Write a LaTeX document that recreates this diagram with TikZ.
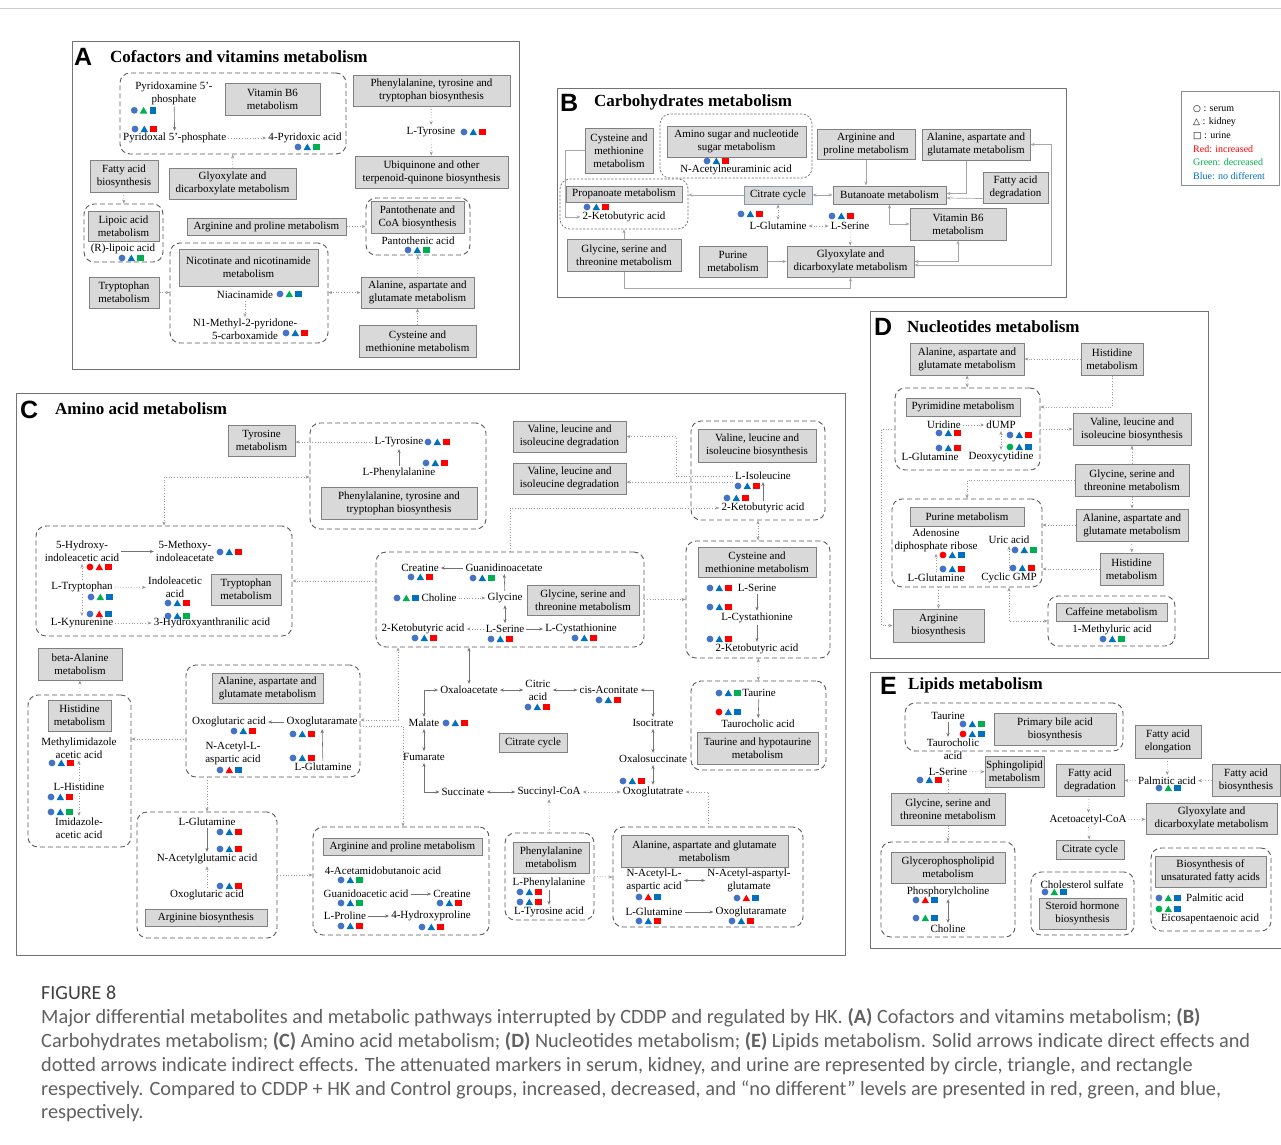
\documentclass[tikz,border=0pt]{standalone}
\usepackage{fontspec}
\setmainfont{Liberation Serif}
\newfontfamily\captfont{Carlito}
\newfontfamily\panelfont{Liberation Sans}
\newfontfamily\legsym{DejaVu Sans}
\usetikzlibrary{arrows.meta}

\definecolor{mkcB}{HTML}{4472C4}
\definecolor{mkcR}{HTML}{FF0000}
\definecolor{mkcG}{HTML}{00B050}
\definecolor{mkB}{HTML}{0070C0}
\definecolor{mkR}{HTML}{FF0000}
\definecolor{mkG}{HTML}{00B050}
\definecolor{citbd}{HTML}{8497B0}

% circle, triangle, square marker: x, y, then serum/kidney/urine colour (R, G or B)
\newcommand\mrk[5]{%
  \fill[mkc#3] (#1,#2) circle (3.4pt);
  \fill[mk#4] (#1+9.3,#2) ++(-3.8pt,-3.2pt) -- ++(7.6pt,0pt) -- ++(-3.8pt,6.6pt) -- cycle;
  \fill[mk#5] (#1+18.6,#2) ++(-3.3pt,-3.3pt) rectangle ++(6.6pt,6.6pt);}

\begin{document}
\begin{tikzpicture}[x=1pt,y=-1pt,>={Stealth[length=4pt,width=3.2pt]},
  pw/.style 2 args={draw=black!50,line width=1pt,fill=black!15,align=center,inner sep=1pt,
    minimum width=#1,minimum height=#2,font=\fontsize{11}{13}\selectfont},
  grp/.style 2 args={draw=black!65,line width=0.9pt,dash pattern=on 5pt off 3pt,rounded corners=10pt,
    minimum width=#1,minimum height=#2,inner sep=0pt},
  grpf/.style 2 args={grp={#1}{#2},dash pattern=on 2.2pt off 1.6pt,line width=0.7pt,draw=black!55},
  met/.style={align=center,inner sep=2pt,font=\fontsize{11}{13}\selectfont},
  sol/.style={->,draw=black!55,line width=0.6pt},
  ind/.style={->,draw=black!40,line width=0.7pt,dotted},
  lnk/.style={->,draw=black!35,line width=0.7pt},
  ttl/.style={anchor=west,inner sep=0pt,font=\fontsize{17}{20}\selectfont\bfseries},
  lett/.style={anchor=west,inner sep=0pt,font=\panelfont\fontsize{25}{25}\selectfont\bfseries},
  leg/.style={anchor=west,inner sep=0pt,font=\fontsize{10}{12}\selectfont},
  capt/.style={anchor=base west,inner sep=0pt,text=black!62,font=\captfont\fontsize{20.3}{24}\selectfont}]
\path[use as bounding box,fill=white] (0,0) rectangle (1281,1144);
\draw[black!20] (0,8) -- (1281,8);

% A
\draw[black!55,line width=0.8pt] (72,41) rectangle (519,369);
\node[lett] (lA) at (74,57) {A};
\node[ttl] (tA) at (110,57) {Cofactors and vitamins metabolism};
\node[grp={226}{81}] (gB6A) at (233,113.5) {};
\node[grp={79}{58}] (gLipA) at (123.5,233) {};
\node[grp={104}{57}] (gPanA) at (418,226.5) {};
\node[grp={158}{100}] (gNicA) at (249,293) {};
\node[pw={95}{32}] (bB6A) at (272.5,99) {Vitamin B6\\metabolism};
\node[pw={157}{31}] (bPheA) at (431.5,90.5) {Phenylalanine, tyrosine and\\tryptophan biosynthesis};
\node[pw={153}{32}] (bUbiA) at (431.5,172) {Ubiquinone and other\\terpenoid-quinone biosynthesis};
\node[pw={68}{32}] (bFasA) at (124,176) {Fatty acid\\biosynthesis};
\node[pw={71}{30}] (bLipA) at (123.5,226) {Lipoic acid\\metabolism};
\node[pw={127}{31}] (bGlxA) at (232.5,183.5) {Glyoxylate and\\dicarboxylate metabolism};
\node[pw={159}{17}] (bArgA) at (266.5,226.5) {Arginine and proline metabolism};
\node[pw={93}{32}] (bPanA) at (417.5,217) {Pantothenate and\\CoA biosynthesis};
\node[pw={139}{37}] (bNicA) at (248.5,267.5) {Nicotinate and nicotinamide\\metabolism};
\node[pw={70}{31}] (bTrpA) at (124,292.5) {Tryptophan\\metabolism};
\node[pw={113}{31}] (bAlaA) at (417.5,292.5) {Alanine, aspartate and\\glutamate metabolism};
\node[pw={117}{32}] (bCysA) at (417.5,341) {Cysteine and\\methionine metabolism};
\node[met] (mPmpA) at (174,93) {Pyridoxamine 5'-\\phosphate};
\mrk{134.3}{110.3}{B}{G}{B}
\node[met] (mPlpA) at (174.7,138) {Pyridoxal 5'-phosphate};
\mrk{135}{129}{B}{B}{R}
\node[met] (mPdxA) at (305,138) {4-Pyridoxic acid};
\mrk{298}{147}{B}{B}{G}
\node[met] (mTyrA) at (431,132) {L-Tyrosine};
\mrk{464}{132}{B}{B}{R}
\node[met] (mLipA) at (123,249) {(R)-lipoic acid};
\mrk{122}{258}{B}{B}{G}
\node[met] (mPanA) at (418,241) {Pantothenic acid};
\mrk{408}{250}{B}{B}{G}
\node[met] (mNiaA) at (245,295) {Niacinamide};
\mrk{280}{294}{B}{G}{B}
\node[met] (mMnpA) at (245,329.5) {N1-Methyl-2-pyridone-\\5-carboxamide};
\mrk{286}{333}{B}{B}{R}
\draw[sol] (mPmpA) -- (mPlpA);
\draw[ind] (mPlpA) -- (mPdxA);
\draw[ind] (bPheA) -- (mTyrA);
\draw[ind] (mTyrA) -- (bUbiA);
\draw[ind] (bFasA) -- (gLipA);
\draw[ind] (bGlxA) -- (gB6A);
\draw[ind] (bArgA.east) -- (gPanA.west |- bArgA.east);
\draw[ind] (bTrpA.east) -- (gNicA.west |- bTrpA.east);
\draw[ind,<->] (bAlaA.west) -- (gNicA.east |- bAlaA.west);
\draw[ind] (bAlaA) -- (gPanA);
\draw[ind] (bCysA) -- (bAlaA);
\draw[ind] (mNiaA) -- (mMnpA);

% B
\draw[black!55,line width=0.8pt] (557,88) rectangle (1066,297);
\node[lett] (lB) at (560,103) {B};
\node[ttl] (tB) at (594,102) {Carbohydrates metabolism};
\node[grpf={152}{64}] (gAmiB) at (736,146) {};
\node[grpf={128}{50}] (gProB) at (624,204) {};
\node[pw={68}{45}] (bCysB) at (619,150.5) {Cysteine and\\methionine\\metabolism};
\node[pw={139}{31}] (bAmiB) at (736.5,141.5) {Amino sugar and nucleotide\\sugar metabolism};
\node[pw={98}{30}] (bArgB) at (866,144) {Arginine and\\proline metabolism};
\node[pw={108}{31}] (bAlaB) at (976,144.5) {Alanine, aspartate and\\glutamate metabolism};
\node[pw={65}{31}] (bFadB) at (1015.5,187.5) {Fatty acid\\degradation};
\node[pw={116}{16}] (bProB) at (624,194) {Propanoate metabolism};
\node[pw={68}{18},draw=citbd] (bCitB) at (778,195) {Citrate cycle};
\node[pw={113}{18}] (bButB) at (889.5,195) {Butanoate metabolism};
\node[pw={96}{32}] (bVitB) at (958,224) {Vitamin B6\\metabolism};
\node[pw={127}{31}] (bGlxB) at (850.5,261.5) {Glyoxylate and\\dicarboxylate metabolism};
\node[pw={68}{31}] (bPurB) at (733,261.5) {Purine\\metabolism};
\node[pw={114}{32}] (bGlyB) at (624,255) {Glycine, serine and\\threonine metabolism};
\mrk{707}{161}{B}{B}{R}
\node[met] (mNeuB) at (736,170) {N-Acetylneuraminic acid};
\mrk{587}{207}{B}{B}{R}
\node[met] (mKbB) at (624,217) {2-Ketobutyric acid};
\mrk{741}{214}{B}{B}{R}
\node[met] (mGlnB) at (778,226) {L-Glutamine};
\mrk{832}{216}{B}{B}{R}
\node[met] (mSerB) at (850,226) {L-Serine};
\draw[lnk] (bCysB.west) -- ++(-19,0) |- (mKbB.west);
\draw[lnk] (bCitB.west) -- (gProB.east |- bCitB.west);
\draw[lnk,<->] (bCitB) -- (bButB);
\draw[lnk] (bArgB.south) -- (bArgB.south |- bButB.north);
\draw[lnk] ([xshift=-10pt]bAlaB.south) |- ([yshift=1.5pt]bButB.east);
\draw[lnk] ([yshift=5pt]bFadB.south west) -- ([yshift=-3pt]bButB.east);
\draw[lnk,<->] (bButB.south) |- (bVitB.west);
\draw[ind,<->] (bCitB) -- (mGlnB);
\draw[ind,<->] (mGlnB) -- (mSerB);
\draw[ind] (mSerB) -- (bGlxB);
\draw[lnk] (bPurB) -- (bGlxB);
\draw[lnk] (bGlyB) -- (gProB);
\draw[lnk] (bGlyB.south) -- ++(0,17) -| (bGlxB.south);
\draw[lnk,<->] (bVitB.south) |- (bGlxB.east);
\draw[lnk,<->] (bAlaB.east) -- ++(21,0) |- ([yshift=-3.5pt]bGlxB.east);

% legend
\draw[black!45,line width=0.7pt] (1181,91) rectangle (1279,185);
\node[leg] (lg1) at (1193,109) {{\legsym\fontsize{9}{10}\selectfont ○} : serum};
\node[leg] (lg2) at (1193,122) {{\legsym\fontsize{9}{10}\selectfont △} : kidney};
\node[leg] (lg3) at (1193,136) {{\legsym\fontsize{9}{10}\selectfont □} : urine};
\node[leg,text=mkR] (lg4) at (1193,149) {Red: increased};
\node[leg,text=mkG] (lg5) at (1193,162) {Green: decreased};
\node[leg,text=mkB] (lg6) at (1193,176) {Blue: no different};

% C
\draw[black!55,line width=0.8pt] (16,393) rectangle (845,955);
\node[lett] (lC) at (20,410) {C};
\node[ttl] (tC) at (55,409) {Amino acid metabolism};
\node[grp={176}{106}] (gPheC) at (398,476) {};
\node[grp={256}{110}] (gTrpC) at (164,581) {};
\node[grp={268}{95}] (gGlyC) at (510,599.5) {};
\node[grp={134}{99}] (gValC) at (758,470.5) {};
\node[grp={144}{117}] (gCysC) at (758,599.5) {};
\node[grp={103}{152}] (gHisC) at (79.5,771) {};
\node[grp={174}{112}] (gAlaC) at (273,721) {};
\node[grp={140}{126}] (gArbC) at (207,875) {};
\node[grp={176}{108}] (gApC) at (401,881) {};
\node[grp={89}{87}] (gPhmC) at (549.5,876.5) {};
\node[grp={190}{100}] (gAl2C) at (708,877) {};
\node[grp={135}{89}] (gTauC) at (758.5,725.5) {};
\node[pw={67}{31}] (bTyrC) at (261.5,440.5) {Tyrosine\\metabolism};
\node[pw={156}{32}] (bPtbC) at (399,503) {Phenylalanine, tyrosine and\\tryptophan biosynthesis};
\node[pw={113}{31}] (bVd1C) at (569.5,436.5) {Valine, leucine and\\isoleucine degradation};
\node[pw={113}{31}] (bVd2C) at (569.5,478.5) {Valine, leucine and\\isoleucine degradation};
\node[pw={118}{33}] (bVbC) at (757,445.5) {Valine, leucine and\\isoleucine biosynthesis};
\node[pw={70}{31}] (bTrpC) at (246,589.5) {Tryptophan\\metabolism};
\node[pw={112}{30}] (bGlyC) at (583,600) {Glycine, serine and\\threonine metabolism};
\node[pw={118}{30}] (bCysC) at (757,562) {Cysteine and\\methionine metabolism};
\node[pw={84}{32}] (bBaC) at (80,664) {beta-Alanine\\metabolism};
\node[pw={63}{31}] (bHisC) at (79.5,715.5) {Histidine\\metabolism};
\node[pw={111}{30}] (bAlaC) at (267.5,688) {Alanine, aspartate and\\glutamate metabolism};
\node[pw={122}{17}] (bArbC) at (206,917.5) {Arginine biosynthesis};
\node[pw={159}{17}] (bApC) at (402.5,846.5) {Arginine and proline metabolism};
\node[pw={68}{19}] (bCitC) at (533,742.5) {Citrate cycle};
\node[pw={76}{31}] (bPhmC) at (551,857.5) {Phenylalanine\\metabolism};
\node[pw={167}{32}] (bAl2C) at (704.5,851) {Alanine, aspartate and glutamate\\metabolism};
\node[pw={121}{32}] (bTauC) at (757.5,748) {Taurine and hypotaurine\\metabolism};
\node[met] (mTyrC) at (399,442) {L-Tyrosine};
\mrk{428}{442}{B}{B}{R}
\node[met] (mPheC) at (399,473) {L-Phenylalanine};
\mrk{426}{463}{B}{B}{R}
\node[met] (m5hiC) at (82,551.5) {5-Hydroxy-\\indoleacetic acid};
\mrk{90}{567}{R}{R}{R}
\node[met] (m5miC) at (185,551.5) {5-Methoxy-\\indoleacetate};
\mrk{220}{552}{B}{B}{R}
\node[met] (mTrpC) at (82,587) {L-Tryptophan};
\mrk{91}{597}{B}{G}{B}
\node[met] (mIaaC) at (175,587.5) {Indoleacetic\\acid};
\mrk{168}{603}{B}{B}{R}
\node[met] (mKynC) at (82,623) {L-Kynurenine};
\mrk{90}{614}{B}{R}{B}
\node[met] (m3haC) at (212,623) {3-Hydroxyanthranilic acid};
\mrk{168}{616}{B}{B}{G}
\node[met] (mCreC) at (420,568) {Creatine};
\mrk{411}{577}{B}{B}{R}
\node[met] (mGaaC) at (504,568) {Guanidinoacetate};
\mrk{473}{578}{B}{B}{G}
\node[met] (mChoC) at (439,598) {Choline};
\mrk{397}{598}{B}{G}{B}
\node[met] (mGlyC) at (505,598) {Glycine};
\node[met] (mKbC) at (423,629) {2-Ketobutyric acid};
\mrk{415}{638}{B}{B}{R}
\node[met] (mSerC) at (505,629) {L-Serine};
\mrk{491}{639}{B}{B}{R}
\node[met] (mCthC) at (581,629) {L-Cystathionine};
\mrk{575}{638}{B}{B}{R}
\node[met] (mIleC) at (763,476) {L-Isoleucine};
\mrk{738}{486}{B}{B}{R}
\node[met] (mKbV) at (763,508) {2-Ketobutyric acid};
\mrk{727}{498}{B}{B}{R}
\node[met] (mSerY) at (757,588) {L-Serine};
\mrk{710}{588}{B}{B}{R}
\node[met] (mCthY) at (757,618) {L-Cystathionine};
\mrk{710}{607}{B}{B}{R}
\node[met] (mKbY) at (757,649) {2-Ketobutyric acid};
\mrk{710}{639}{B}{B}{R}
\node[met] (mMiaC) at (79,748) {Methylimidazole\\acetic acid};
\mrk{52}{763}{B}{B}{R}
\node[met] (mHisC) at (79,787) {L-Histidine};
\mrk{51}{797}{B}{B}{R}
\node[met] (mImaC) at (79,828.5) {Imidazole-\\acetic acid};
\mrk{51}{812}{B}{B}{G}
\node[met] (mOgaC) at (229,722) {Oxoglutaric acid};
\mrk{234}{731}{B}{B}{R}
\node[met] (mOgmC) at (322,722) {Oxoglutaramate};
\mrk{293}{734}{B}{B}{R}
\node[met] (mNaaC) at (233,753.5) {N-Acetyl-L-\\aspartic acid};
\mrk{220}{770}{B}{R}{B}
\node[met] (mGlnC) at (323,767) {L-Glutamine};
\mrk{293}{758}{B}{B}{R}
\node[met] (mGlnR) at (207,822) {L-Glutamine};
\mrk{220}{832}{B}{B}{R}
\node[met] (mNagR) at (207,859) {N-Acetylglutamic acid};
\mrk{220}{849}{B}{B}{R}
\node[met] (mOgaR) at (207,895) {Oxoglutaric acid};
\mrk{220}{886}{B}{B}{R}
\node[met] (mAabP) at (383,871) {4-Acetamidobutanoic acid};
\mrk{341}{880}{B}{B}{G}
\node[met] (mGaaP) at (366,894) {Guanidoacetic acid};
\mrk{341}{903}{B}{B}{G}
\node[met] (mCreP) at (452,894) {Creatine};
\mrk{440}{903}{B}{B}{R}
\node[met] (mProP) at (345,916) {L-Proline};
\mrk{341}{926}{B}{B}{R}
\node[met] (mHypP) at (431,916) {4-Hydroxyproline};
\mrk{422}{927}{B}{B}{R}
\node[met] (mOaaC) at (469,690) {Oxaloacetate};
\node[met] (mCitC) at (538,690) {Citric\\acid};
\mrk{528}{707}{B}{B}{R}
\node[met] (mAcoC) at (609,690) {cis-Aconitate};
\mrk{599}{700}{B}{B}{R}
\node[met] (mIciC) at (653,723) {Isocitrate};
\node[met] (mOxsC) at (653,759) {Oxalosuccinate};
\node[met] (mOgtC) at (653,792) {Oxoglutatrate};
\mrk{623}{781}{B}{B}{R}
\node[met] (mScaC) at (549,792) {Succinyl-CoA};
\node[met] (mSucC) at (463,792) {Succinate};
\node[met] (mFumC) at (424,757) {Fumarate};
\node[met] (mMalC) at (424,723) {Malate};
\mrk{446}{723}{B}{B}{R}
\node[met] (mTauC) at (759,693) {Taurine};
\mrk{719}{693}{B}{B}{G}
\node[met] (mTcaC) at (758,724) {Taurocholic acid};
\mrk{719}{712}{R}{B}{B}
\node[met] (mPheP) at (549,883) {L-Phenylalanine};
\mrk{520}{892}{B}{B}{R}
\node[met] (mTyrP) at (549,912) {L-Tyrosine acid};
\mrk{520}{902}{B}{B}{R}
\node[met] (mNaaL) at (654,880.5) {N-Acetyl-L-\\aspartic acid};
\mrk{639}{897}{B}{R}{B}
\node[met] (mNagL) at (749,880.5) {N-Acetyl-aspartyl-\\glutamate};
\mrk{737}{898}{B}{R}{B}
\node[met] (mGlnL) at (654,912) {L-Glutamine};
\mrk{639}{921}{B}{B}{R}
\node[met] (mOgmL) at (751,912) {Oxoglutaramate};
\mrk{732}{921}{B}{B}{R}
\coordinate (jA) at (398,720);
\coordinate (jB) at (403,726);
\coordinate (jC) at (186,739);
\draw[ind] (mTyrC.west) -- (bTyrC.east |- mTyrC.west);
\draw[ind,<->] ([yshift=-1pt]gPheC.west) -| (gTrpC.north);
\draw[sol] (mPheC) -- (mTyrC);
\draw[sol] (m5hiC) -- (m5miC);
\draw[ind] (mTrpC) -- (m5hiC);
\draw[ind] (mTrpC) -- (mIaaC);
\draw[ind] (mTrpC) -- (mKynC);
\draw[ind] (mKynC) -- (m3haC);
\draw[ind] (gGlyC.west |- gTrpC.east) -- (gTrpC.east);
\draw[ind] (gGlyC.north) |- (mKbV.west);
\draw[ind] (mIleC.west) -- ++(-57,0) |- (bVd1C.east);
\draw[ind] (mIleC.south west) -- (mIleC.south west -| bVd2C.east);
\draw[sol] (mKbV) -- (mIleC);
\draw[ind,<->] (gValC) -- (gCysC);
\draw[sol] (mSerY) -- (mCthY);
\draw[sol] (mCthY) -- (mKbY);
\draw[ind] (gGlyC.east) -- (gCysC.west);
\draw[sol] (mGaaC) -- (mCreC);
\draw[ind] (mChoC) -- (mGlyC);
\draw[sol] (mGlyC) -- (mGaaC);
\draw[sol,<->] (mGlyC) -- (mSerC);
\draw[ind] (mSerC) -- (mKbC);
\draw[sol] (mSerC) -- (mCthC);
\draw[ind] (gHisC) -- (bBaC);
\draw[ind] (mHisC) -- (mMiaC);
\draw[ind] (mHisC) -- (mImaC);
\draw[ind] (jC) -- (jC -| gHisC.east);
\draw[sol] (mOgmC) -- (mOgaC);
\draw[sol] (mGlnC) -- (mOgmC);
\draw[ind,<->] (gAlaC.east |- jA) -- (jA) -- (jA |- gGlyC.south);
\draw[ind] (gAlaC.east |- jB) -- (jB) -- (jB |- gApC.north);
\draw[ind] (gAlaC.south -| gArbC.north) -- (gArbC.north);
\draw[sol] (mGlnR) -- (mNagR);
\draw[ind] (mOgaR) -- (mNagR);
\draw[ind] (gArbC.east) -- (gApC.west |- gArbC.east);
\draw[sol] (mGaaP) -- (mCreP);
\draw[sol] (mProP) -- (mHypP);
\draw[sol,<->] (gGlyC.south -| mOaaC) -- (mOaaC);
\draw[sol,<->] (mOaaC) -- (mCitC);
\draw[sol,<->] (mCitC) -- (mAcoC);
\draw[sol,<->] (mAcoC.east) -| (mIciC.north);
\draw[sol,<->] (mIciC) -- (mOxsC);
\draw[sol,<->] (mOxsC) -- (mOgtC);
\draw[ind,<->] (mScaC) -- (mOgtC);
\draw[sol,<->] (mSucC) -- (mScaC);
\draw[sol,<->] (mSucC.west) -| (mFumC.south);
\draw[sol,<->] (mFumC) -- (mMalC);
\draw[sol,<->] (mMalC.north) |- (mOaaC.west);
\draw[ind] (gPhmC) -- (mScaC);
\draw[ind] (gAl2C.north) |- (mOgtC.east);
\draw[ind,<->] (gCysC) -- (gTauC);
\draw[sol] (mTauC) -- (mTcaC);
\draw[sol] (mPheP) -- (mTyrP);
\draw[ind] (gPhmC.east) -- (gAl2C.west);
\draw[sol,<->] (mNaaL) -- (mNagL);
\draw[sol] (mGlnL) -- (mOgmL);

% D
\draw[black!55,line width=0.8pt] (870,311) rectangle (1208,658);
\node[lett] (lD) at (874,327) {D};
\node[ttl] (tD) at (907,327) {Nucleotides metabolism};
\node[grp={145}{82}] (gPyrD) at (967.5,429) {};
\node[grp={150}{88}] (gPurD) at (967,543) {};
\node[grp={127}{50}] (gCafD) at (1111.5,621) {};
\node[pw={114}{32}] (bAlaD) at (967,359) {Alanine, aspartate and\\glutamate metabolism};
\node[pw={62}{32}] (bHisD) at (1112,359) {Histidine\\metabolism};
\node[pw={114}{18}] (bPyrD) at (963,407) {Pyrimidine metabolism};
\node[pw={118}{32}] (bValD) at (1132,429) {Valine, leucine and\\isoleucine biosynthesis};
\node[pw={114}{32}] (bGlyD) at (1132,480) {Glycine, serine and\\threonine metabolism};
\node[pw={114}{19}] (bPurD) at (967,516.5) {Purine metabolism};
\node[pw={112}{32}] (bAlaE) at (1132,525) {Alanine, aspartate and\\glutamate metabolism};
\node[pw={63}{32}] (bHisE) at (1131.5,569) {Histidine\\metabolism};
\node[pw={91}{33}] (bArgD) at (938.5,625.5) {Arginine\\biosynthesis};
\node[pw={111}{18}] (bCafD) at (1111.5,612) {Caffeine metabolism};
\node[met] (mUriD) at (944,425) {Uridine};
\mrk{939}{433}{B}{B}{R}
\node[met] (mDumD) at (1001,425) {dUMP};
\mrk{1010}{435}{B}{B}{R}
\node[met] (mGlnD) at (930,457) {L-Glutamine};
\mrk{939}{448}{B}{B}{R}
\node[met] (mDcyD) at (1001,457) {Deoxycytidine};
\mrk{1010}{447}{G}{B}{B}
\node[met] (mAdpD) at (936,540) {Adenosine\\diphosphate ribose};
\mrk{943}{555}{R}{B}{B}
\node[met] (mUrcD) at (1009,540) {Uric acid};
\mrk{1015}{550}{B}{B}{G}
\node[met] (mGlnP) at (936,578) {L-Glutamine};
\mrk{943}{569}{B}{B}{R}
\node[met] (mCgmD) at (1009,578) {Cyclic GMP};
\mrk{1013}{568}{B}{B}{R}
\node[met] (m1muD) at (1112,630) {1-Methyluric acid};
\mrk{1103}{639}{B}{B}{G}
\draw[ind] (bHisD) -- (bAlaD);
\draw[ind,<->] (bAlaD) -- (gPyrD);
\draw[ind] (bHisD.south) |- (gPyrD.east |- bPyrD);
\draw[ind] (mUriD) -- (mDumD);
\draw[ind,<->] (mDumD) -- (mDcyD);
\draw[ind] (gPyrD.east) -- (bValD.west);
\draw[ind] (bGlyD) -- (bValD);
\draw[ind] (bGlyD.west) -| (gPurD.north);
\draw[ind] (bGlyD) -- (bAlaE);
\draw[ind] (bAlaE.west) -- (gPurD.east |- bAlaE.west);
\draw[ind] (bAlaE) -- (bHisE);
\draw[ind] (bHisE.west) -- (gPurD.east |- bHisE.west);
\draw[ind] (mGlnP) -- (mAdpD);
\draw[ind] (mCgmD) -- (mUrcD);
\draw[ind] (gPurD.south -| bArgD) -- (bArgD);
\draw[ind] (gPyrD.west) -- ++(-13,0) |- (bArgD.west);
\draw[ind,<->] (gPurD.south -| mCgmD) |- (gCafD.west);

% E
\draw[black!55,line width=0.8pt] (1290,672) -- (870,672) -- (870,948) -- (1290,948);
\node[lett] (lE) at (880,686) {E};
\node[ttl] (tE) at (908,685) {Lipids metabolism};
\node[grp={218}{48}] (gBilE) at (1014,727) {};
\node[grp={134}{95}] (gGplE) at (948,889.5) {};
\node[grp={103}{63}] (gSteE) at (1082.5,903.5) {};
\node[grp={120}{83}] (gUnsE) at (1211,889.5) {};
\node[pw={122}{32}] (bBilE) at (1055,729) {Primary bile acid\\biosynthesis};
\node[pw={59}{31}] (bSphE) at (1014.5,771.5) {Sphingolipid\\metabolism};
\node[pw={114}{32}] (bGlyE) at (948,809) {Glycine, serine and\\threonine metabolism};
\node[pw={114}{31}] (bGplE) at (948,867.5) {Glycerophospholipid\\metabolism};
\node[pw={68}{32}] (bFadE) at (1090,780) {Fatty acid\\degradation};
\node[pw={66}{33}] (bFaeE) at (1168,741.5) {Fatty acid\\elongation};
\node[pw={68}{32}] (bFabE) at (1246,780) {Fatty acid\\biosynthesis};
\node[pw={131}{31}] (bGlxE) at (1211.5,818.5) {Glyoxylate and\\dicarboxylate metabolism};
\node[pw={68}{19}] (bCitE) at (1090,849.5) {Citrate cycle};
\node[pw={87}{31}] (bSteE) at (1082.5,913.5) {Steroid hormone\\biosynthesis};
\node[pw={111}{31}] (bUnsE) at (1210.5,871.5) {Biosynthesis of\\unsaturated fatty acids};
\node[met] (mTauE) at (948,716) {Taurine};
\mrk{963}{724}{B}{B}{G}
\node[met] (mTcaE) at (953,749.5) {Taurocholic\\acid};
\mrk{963}{734}{R}{B}{B}
\node[met] (mSerE) at (948,772) {L-Serine};
\mrk{920}{780}{B}{B}{R}
\node[met] (mPchE) at (948,892) {Phosphorylcholine};
\mrk{916}{900}{B}{R}{B}
\node[met] (mChoE) at (948,929) {Choline};
\mrk{916}{918}{B}{G}{B}
\node[met] (mPalE) at (1167,781) {Palmitic acid};
\mrk{1159}{788}{B}{G}{B}
\node[met] (mAccE) at (1088,820) {Acetoacetyl-CoA};
\node[met] (mChsE) at (1082,885) {Cholesterol sulfate};
\mrk{1045}{892}{B}{G}{B}
\node[met] (mPauE) at (1215,898) {Palmitic acid};
\mrk{1159}{898}{B}{G}{B}
\node[met] (mEpaE) at (1210,919) {Eicosapentaenoic acid};
\mrk{1159}{909}{G}{G}{B}
\draw[sol] (mTauE.south) -- (mTauE.south |- mTcaE.north);
\draw[ind] (mSerE) -- (bSphE);
\draw[ind] (bGlyE) -- (mSerE);
\draw[ind] (bGlyE) -- (gGplE);
\draw[sol,<->] (mPchE) -- (mChoE);
\draw[ind] (bFaeE) -- (mPalE);
\draw[ind] (mPalE) -- (bFadE);
\draw[ind] (bFabE) -- (mPalE);
\draw[ind] (bFadE) -- (mAccE);
\draw[ind] (mAccE) -- (bGlxE);
\draw[ind] (mAccE) -- (bCitE);

% caption
\node[capt,text=black!75,font=\captfont\fontsize{20}{24}\selectfont] (fig) at (41,999) {FIGURE 8};
\node[capt] (cap1) at (41,1023) {Major differential metabolites and metabolic pathways interrupted by CDDP and regulated by HK. \textbf{(A)} Cofactors and vitamins metabolism; \textbf{(B)}};
\node[capt] (cap2) at (41,1047) {Carbohydrates metabolism; \textbf{(C)} Amino acid metabolism; \textbf{(D)} Nucleotides metabolism; \textbf{(E)} Lipids metabolism. Solid arrows indicate direct effects and};
\node[capt] (cap3) at (41,1071) {dotted arrows indicate indirect effects. The attenuated markers in serum, kidney, and urine are represented by circle, triangle, and rectangle};
\node[capt] (cap4) at (41,1095) {respectively. Compared to CDDP + HK and Control groups, increased, decreased, and “no different” levels are presented in red, green, and blue,};
\node[capt] (cap5) at (41,1118) {respectively.};
\end{tikzpicture}
\end{document}
